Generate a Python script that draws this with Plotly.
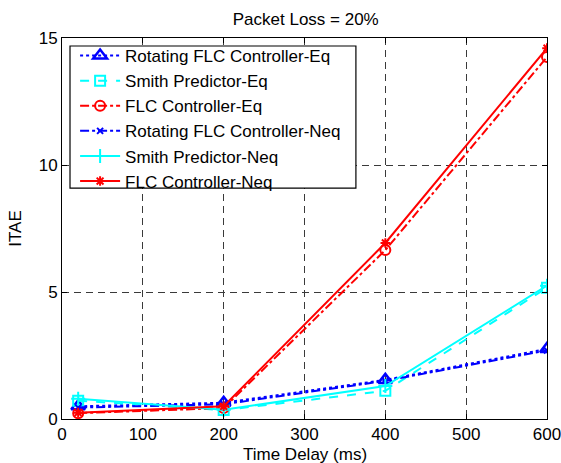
import plotly.graph_objects as go

# Time delay values (ms) shared by every series
delay_ms = [20, 200, 400, 600]

# ITAE results per controller
rot_flc_eq = [0.50, 0.64, 1.54, 2.76]
smith_eq = [0.72, 0.35, 1.11, 5.17]
flc_eq = [0.23, 0.43, 6.65, 14.25]
rot_flc_neq = [0.45, 0.58, 1.50, 2.70]
smith_neq = [0.80, 0.36, 1.30, 5.25]
flc_neq = [0.25, 0.50, 6.93, 14.60]

series_names = [
    "Rotating FLC Controller-Eq",
    "Smith Predictor-Eq",
    "FLC Controller-Eq",
    "Rotating FLC Controller-Neq",
    "Smith Predictor-Neq",
    "FLC Controller-Neq",
]

x_ticks = [0, 100, 200, 300, 400, 500, 600]
y_ticks = [0, 5, 10, 15]

BLUE = "#0000ff"
CYAN = "#00ffff"
RED = "#ff0000"
FONT = "Liberation Sans, Arial, Helvetica, sans-serif"
FS = 17

styles = [
    (rot_flc_eq, BLUE, "dot", "triangle-up-open", 12, 2.5),
    (smith_eq, CYAN, "dash", "square-open", 10, 2),
    (flc_eq, RED, "dashdot", "circle-open", 10, 2),
    (rot_flc_neq, BLUE, "dashdot", "x-thin-open", 6, 2),
    (smith_neq, CYAN, "solid", "cross-thin-open", 10, 2),
    (flc_neq, RED, "solid", "asterisk-open", 8, 2),
]

fig = go.Figure()
for name, (vals, color, dash, symbol, size, mlw) in zip(series_names, styles):
    fig.add_trace(go.Scatter(
        x=delay_ms, y=vals, name=name, mode="lines+markers",
        line=dict(color=color, width=2, dash=dash),
        marker=dict(symbol=symbol, size=size, color=color,
                    line=dict(color=color, width=mlw)),
    ))

axis_common = dict(
    showline=True, linecolor="black", linewidth=1, mirror="ticks",
    ticks="inside", ticklen=5, tickcolor="black",
    showgrid=True, gridcolor="#3a3a3a", griddash="7px,5px", gridwidth=1,
    zeroline=False, automargin=False, ticklabeloverflow="allow",
    tickfont=dict(family=FONT, size=FS, color="black"),
)

# Boxed legend frame sitting above the data lines; the legend text is drawn on top
fig.add_shape(type="rect", xref="paper", yref="paper", layer="above",
              x0=0.0165, x1=0.606, y0=0.606, y1=0.979,
              fillcolor="white", line=dict(color="black", width=1.2))

# x-axis title placed close to the bottom edge of the figure
fig.add_annotation(text="Time Delay (ms)", xref="paper", yref="paper",
                   x=0.5, y=-0.092, xanchor="center", yanchor="middle",
                   showarrow=False, font=dict(size=FS, family=FONT, color="black"))

fig.update_layout(
    width=561, height=463,
    margin=dict(l=62, r=14, t=38, b=44),
    paper_bgcolor="white", plot_bgcolor="white",
    font=dict(family=FONT, color="black"),
    title=dict(text="Packet Loss = 20%", x=0.545, xanchor="center",
               y=0.958, yanchor="middle", font=dict(size=FS)),
    xaxis=dict(range=[0, 600], tickvals=x_ticks, **axis_common),
    yaxis=dict(range=[0, 15], tickvals=y_ticks,
               title=dict(text="ITAE", font=dict(size=FS), standoff=12),
               **axis_common),
    legend=dict(x=0.027, y=1.0, xanchor="left", yanchor="top",
                bgcolor="rgba(0,0,0,0)", borderwidth=0,
                font=dict(size=FS, family=FONT), tracegroupgap=0,
                itemwidth=40),
    showlegend=True,
)

fig.write_html("out.html")
